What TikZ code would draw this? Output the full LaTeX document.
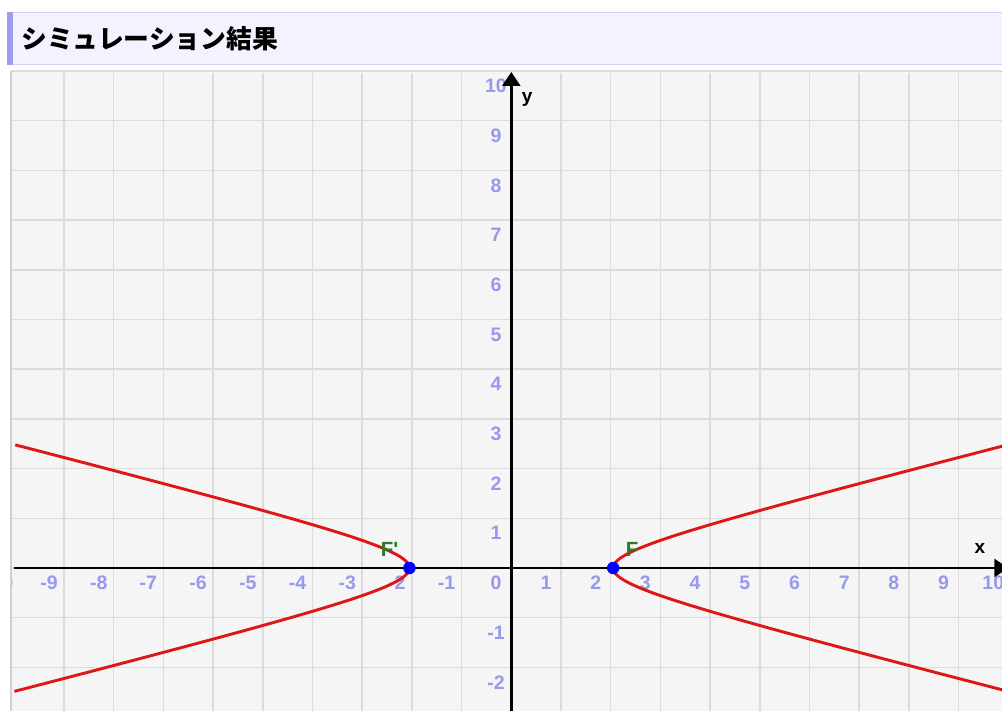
\documentclass[tikz,border=0pt]{standalone}
\usepackage{fontspec}
\setmainfont{Liberation Sans}
\newfontfamily\plainf{Liberation Sans}
\newfontfamily\cjk{Noto Sans CJK JP}
\usetikzlibrary{arrows.meta}
\definecolor{hdrbg}{HTML}{F3F3FF}
\definecolor{hdrline}{HTML}{D2D2F8}
\definecolor{accent}{HTML}{9C9CF0}
\definecolor{plotbg}{HTML}{F5F5F5}
\definecolor{gridc}{HTML}{DCDCDC}
\definecolor{borderc}{HTML}{D0D0D0}
\definecolor{tickc}{HTML}{9898EC}
\definecolor{curvec}{HTML}{E01515}
\definecolor{focusc}{HTML}{2A7A2A}
\tikzset{
  gridline/.style={draw=gridc, line width=1.5pt},
  axisline/.style={draw=black, line width=2.5pt, -{Triangle[length=14pt,width=18pt]}},
  ticklabel/.style={font=\fontsize{19.5}{22}\selectfont\bfseries, text=tickc, inner sep=0pt},
  axislabel/.style={font=\fontsize{19}{22}\selectfont\bfseries, text=black, inner sep=0pt},
  focuslabel/.style={font=\plainf\fontsize{20.5}{22}\selectfont\bfseries, text=focusc, inner sep=0pt},
  curve/.style={draw=curvec, line width=2.9pt},
  focusdot/.style={circle, fill=blue, inner sep=0pt, minimum size=12.5pt},
}
\begin{document}
\begin{tikzpicture}[x=1pt,y=-1pt]
\useasboundingbox (0,0) rectangle (1002,711);
\clip (0,0) rectangle (1002,711);
% header
\fill[hdrbg] (7,12) rectangle (1002,65);
\draw[hdrline, line width=1.5pt] (7,12.5) -- (1002,12.5);
\draw[hdrline, line width=1.5pt] (7,64.5) -- (1002,64.5);
\fill[accent] (7,12) rectangle (13,65);
\node[anchor=west, inner sep=0pt, font=\cjk\bfseries\fontsize{25.8}{30}\selectfont] (title) at (21,39) {シミュレーション結果};
% plot area
\fill[plotbg] (11,71) rectangle (1002,711);
\begin{scope}
\clip (11,71) rectangle (1002,711);
\begin{scope}[shift={(511.3,568)}, x=49.7pt, y=49.7pt]
  \foreach \i in {-9,...,10} \draw[gridline] (\i,-2.9) -- (\i,9.95);
  \foreach \j in {-2,...,10} \draw[gridline] (-10.2,\j) -- (10.2,\j);
  % tick labels
  \foreach \i in {-10,...,-1,1,2,...,10}
    \node[ticklabel] (tx\i) at (\i-0.302,-0.29) {\i};
  \node[ticklabel] (t0) at (-0.308,-0.29) {0};
  \foreach \j in {-2,-1,1,2,...,10}
    \node[ticklabel] (ty\j) at (-0.308,\j-0.30) {\j};
  % axes
  \coordinate (xs) at (-10,0);
  \coordinate (xe) at (10,0);
  \coordinate (ys) at (0,-3);
  \coordinate (ye) at (0,9.98);
  \draw[axisline] (xs) -- (xe);
  \draw[axisline] (ys) -- (ye);
  \node[axislabel] (xl) at (9.43,0.40) {x};
  \node[axislabel] (yl) at (0.32,9.42) {y};
  % hyperbola
  \draw[curve] plot[domain=-2.3:2.3, samples=120, variable=\t] ({2.05*cosh(\t)},{0.52*sinh(\t)});
  \draw[curve] plot[domain=-2.267:2.267, samples=120, variable=\t] ({-2.05*cosh(\t)},{0.52*sinh(\t)});
  % foci
  \node[focusdot] (F) at (2.05,0) {};
  \node[focusdot] (Fp) at (-2.05,0) {};
  \node[focuslabel] (labF) at (2.43,0.38) {F};
  \node[focuslabel] (labFp) at (-2.45,0.37) {F'};
\end{scope}
\end{scope}
\draw[borderc, line width=1.5pt] (11,71) -- (11,711);
\end{tikzpicture}
\end{document}
